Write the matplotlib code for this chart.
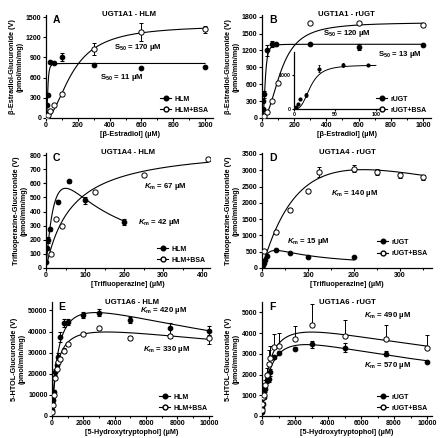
import numpy as np
import matplotlib
matplotlib.use('Agg')
import matplotlib.pyplot as plt
from matplotlib.lines import Line2D

plt.rcParams['font.family'] = ['Liberation Sans', 'DejaVu Sans']
plt.rcParams['font.weight'] = 'bold'
plt.rcParams['mathtext.fontset'] = 'custom'
plt.rcParams['mathtext.rm'] = 'Liberation Sans:bold'
plt.rcParams['mathtext.it'] = 'Liberation Sans:bold:italic'
plt.rcParams['mathtext.bf'] = 'Liberation Sans:bold'

# ---- Panel A: UGT1A1 - HLM (beta-estradiol)
a_x = [1, 2.5, 5, 10, 25, 50, 100, 300, 600, 1000]
a_hlm = [20, 80, 200, 340, 830, 820, 910, 790, 750, 760]
a_hlm_err = [0, 0, 0, 0, 10, 10, 60, 15, 10, 10]
a_bsa = [5, 10, 20, 40, 100, 200, 350, 1030, 1280, 1320]
a_bsa_err = [0, 0, 0, 0, 10, 10, 30, 90, 130, 50]
a_fit_hlm = (810, 11, 3.0)      # Vmax, S50, n
a_fit_bsa = (1380, 170, 1.9)

# ---- Panel B: UGT1A1 - rUGT
b_x = [1, 2.5, 5, 7.5, 15, 30, 60, 90, 300, 600, 1000]
b_rugt = [20, 60, 160, 300, 420, 1200, 1310, 1310, 1320, 1260, 1300]
b_rugt_err = [0, 0, 0, 20, 60, 100, 50, 30, 15, 60, 15]
b_bsa_x = [1, 2.5, 5, 10, 30, 60, 100, 300, 600, 1000]
b_bsa = [5, 10, 20, 40, 110, 300, 620, 1680, 1690, 1660]
b_fit_rugt = (1310, 20, 3.0)
b_fit_bsa = (1700, 120, 2.2)

# ---- Panel C: UGT1A4 - HLM (trifluoperazine)
c_hlm_x = [1, 2.5, 5, 10, 30, 60, 100, 200]
c_hlm = [45, 140, 200, 275, 470, 615, 480, 325]
c_hlm_err = [0, 10, 20, 10, 10, 10, 25, 20]
c_bsa_x = [12, 25, 40, 125, 250, 415]
c_bsa = [100, 345, 295, 540, 660, 775]
c_fit_hlm = (1510, 42, 60)       # Vmax, Km, Ki
c_fit_bsa = (870, 67)

# ---- Panel D: UGT1A4 - rUGT
d_rugt_x = [1, 2.5, 5, 7.5, 10, 30, 60, 100, 200]
d_rugt = [50, 100, 150, 250, 380, 550, 470, 350, 330]
d_bsa_x = [5, 30, 60, 100, 125, 200, 250, 300, 350]
d_bsa = [520, 1100, 1780, 2350, 2950, 3050, 2950, 2850, 2780]
d_bsa_err = [20, 50, 50, 60, 150, 100, 80, 80, 80]
d_fit_rugt = (1080, 15, 60)
d_fit_bsa = (6860, 140, 346)

# ---- Panel E: UGT1A6 - HLM (5-hydroxytryptophol)
e_x = [25, 50, 100, 200, 300, 400, 500, 750, 1000, 2000, 3000, 5000, 7500, 10000]
e_hlm = [3000, 7500, 11500, 21000, 24000, 28000, 37500, 44000, 44500, 48000, 49000, 45500, 41500, 40500]
e_hlm_err = [1000, 1000, 1000, 1500, 1500, 2000, 2500, 2000, 1500, 1500, 1500, 1500, 2500, 2000]
e_bsa = [2000, 5000, 10000, 18000, 22500, 25500, 27000, 31000, 34000, 39000, 41500, 37000, 38000, 37000]
e_bsa_err = [500, 500, 500, 800, 800, 800, 1000, 1000, 800, 800, 800, 800, 1000, 3000]
e_fit_hlm = (63700, 420, 18667)
e_fit_bsa = (47300, 330, 37121)

# ---- Panel F: UGT1A6 - rUGT
f_x = [10, 25, 50, 100, 200, 300, 400, 500, 750, 1000, 2000, 3000, 5000, 7500, 10000]
f_rugt = [200, 400, 600, 900, 1300, 1750, 1800, 2100, 2850, 3050, 3250, 3450, 3300, 3000, 2600]
f_rugt_err = [50, 50, 80, 100, 150, 150, 150, 150, 100, 80, 80, 150, 200, 120, 60]
f_bsa = [300, 600, 900, 1000, 1500, 2000, 2500, 2800, 3350, 3400, 3700, 4400, 3850, 3700, 3300]
f_bsa_err = [100, 150, 150, 200, 250, 300, 700, 600, 600, 600, 650, 1000, 800, 700, 600]
f_fit_rugt = (4900, 570, 12789)
f_fit_bsa = (5372, 490, 18367)


def hill(x, p):
    vmax, s50, n = p
    return vmax * x ** n / (s50 ** n + x ** n)


def mm(x, p):
    vmax, km = p
    return vmax * x / (km + x)


def subinh(x, p):
    vmax, km, ki = p
    return vmax * x / (km + x + x ** 2 / ki)


W, H = 440, 438
fig = plt.figure(figsize=(W / 100, H / 100), dpi=100)


def make_ax(l, b, r, t):
    return fig.add_axes([l / W, 1 - b / H, (r - l) / W, (b - t) / H])


def style(ax, xlim, ylim, xt, yt, xminor=None):
    ax.set_xlim(*xlim)
    ax.set_ylim(*ylim)
    ax.set_xticks(xt)
    ax.set_yticks(yt)
    if xminor is not None:
        ax.set_xticks(xminor, minor=True)
    for s in ['top', 'right']:
        ax.spines[s].set_visible(False)
    for s in ['left', 'bottom']:
        ax.spines[s].set_linewidth(0.9)
    ax.tick_params(labelsize=5.0, width=0.8, length=2, pad=1.2)
    ax.tick_params(which='minor', width=0.7, length=1.3)
    ax.patch.set_alpha(0)


def filled(ax, x, y, err=None, upper_only=False):
    yerr = None
    if err is not None:
        yerr = [np.zeros(len(err)), err] if upper_only else err
    ax.errorbar(x, y, yerr=yerr, fmt='o', color='black', ms=3.3, mew=0.8,
                elinewidth=0.7, capsize=1.4, capthick=0.7, zorder=4)


def opened(ax, x, y, err=None, upper_only=False):
    yerr = None
    if err is not None:
        yerr = [np.zeros(len(err)), err] if upper_only else err
    ax.errorbar(x, y, yerr=yerr, fmt='o', color='black', mfc='white', ms=3.8, mew=0.7,
                elinewidth=0.7, capsize=1.4, capthick=0.7, zorder=4)


def legend(ax, lab1, lab2, loc='lower right', bbox=None):
    h1 = Line2D([], [], color='black', lw=0.8, marker='o', ms=3.3)
    h2 = Line2D([], [], color='black', lw=0.8, marker='o', ms=3.5, mfc='white')
    leg = ax.legend([h1, h2], [lab1, lab2], loc=loc, bbox_to_anchor=bbox, frameon=False,
                    fontsize=5.0, handlelength=1.6, handletextpad=0.5, labelspacing=0.6,
                    borderaxespad=0.2)
    return leg


def header(ax, letter, title):
    ax.text(0.04, 1.0, letter, transform=ax.transAxes, fontsize=7.5, fontweight='bold',
            va='top', ha='left')
    ax.text(0.5, 1.0, title, transform=ax.transAxes, fontsize=5.6, fontweight='bold',
            va='center', ha='center')


lab_kw = dict(fontsize=5.2, fontweight='bold')
txt_kw = dict(fontsize=5.6, fontweight='bold')


def labels(ax, xl, yl):
    ax.set_ylabel(yl, labelpad=1.5, linespacing=1.1, **lab_kw)
    ax.set_xlabel(xl, labelpad=1.0, **lab_kw)


# ---------------- A
ax = make_ax(46, 118, 213, 15)
xs = np.linspace(0, 1000, 600)
ax.plot(xs, hill(xs, a_fit_hlm), color='black', lw=0.8)
ax.plot(xs, hill(xs, a_fit_bsa), color='black', lw=0.8)
filled(ax, a_x, a_hlm, a_hlm_err)
opened(ax, a_x, a_bsa, a_bsa_err)
style(ax, (0, 1050), (0, 1530), range(0, 1001, 200), range(0, 1501, 300), range(100, 1001, 200))
labels(ax, '[β-Estradiol] (µM)', 'β-Estradiol-Glucuronide (V)\n(pmol/min/mg)')
header(ax, 'A', 'UGT1A1 - HLM')
ax.text(430, 1040, r'S$_{50}$ = 170 µM', ha='left', va='center', **txt_kw)
ax.text(340, 600, r'S$_{50}$ = 11 µM', ha='left', va='center', **txt_kw)
legend(ax, 'HLM', 'HLM+BSA')

# ---------------- B
ax = make_ax(262, 118, 431, 15)
ax.plot(xs, hill(xs, b_fit_rugt), color='black', lw=0.8)
ax.plot(xs, hill(xs, b_fit_bsa), color='black', lw=0.8)
filled(ax, b_x, b_rugt, b_rugt_err)
opened(ax, b_bsa_x, b_bsa)
style(ax, (0, 1050), (0, 1830), range(0, 1001, 200), range(0, 1801, 300), range(100, 1001, 200))
labels(ax, '[β-Estradiol] (µM)', 'β-Estradiol-Glucuronide (V)\n(pmol/min/mg)')
header(ax, 'B', 'UGT1A1 - rUGT')
ax.text(380, 1500, r'S$_{50}$ = 120 µM', ha='left', va='center', **txt_kw)
ax.text(720, 1130, r'S$_{50}$ = 13 µM', ha='left', va='center', **txt_kw)
legend(ax, 'rUGT', 'rUGT+BSA')

# inset
ins = make_ax(294, 109, 380, 52)
xi = np.linspace(0, 100, 300)
ins.plot(xi, hill(xi, b_fit_rugt), color='black', lw=0.7)
ix = [v for v in b_x if v <= 100]
iy = [b_rugt[i] for i, v in enumerate(b_x) if v <= 100]
ie = [b_rugt_err[i] for i, v in enumerate(b_x) if v <= 100]
ins.errorbar(ix, iy, yerr=ie, fmt='o', color='black', ms=2, elinewidth=0.6,
             capsize=1, capthick=0.6)
style(ins, (0, 105), (0, 1700), [0, 50, 100], [0, 1000])
ins.tick_params(labelsize=3.8, length=1.5, pad=1)

# ---------------- C
ax = make_ax(46, 268, 210, 153)
xc = np.linspace(0, 200, 400)
xc2 = np.linspace(0, 415, 400)
ax.plot(xc, subinh(xc, c_fit_hlm), color='black', lw=0.8)
ax.plot(xc2, mm(xc2, c_fit_bsa), color='black', lw=0.8)
filled(ax, c_hlm_x, c_hlm, c_hlm_err)
opened(ax, c_bsa_x, c_bsa)
style(ax, (0, 420), (0, 815), range(0, 401, 100), range(0, 801, 100), range(50, 401, 100))
labels(ax, '[Trifluoperazine] (µM)', 'Trifluoperazine-Glucuronide (V)\n(pmol/min/mg)')
header(ax, 'C', 'UGT1A4 - HLM')
ax.text(250, 575, r'$K_{\rm m}$ = 67 µM', ha='left', va='center', **txt_kw)
ax.text(235, 320, r'$K_{\rm m}$ = 42 µM', ha='left', va='center', **txt_kw)
legend(ax, 'HLM', 'HLM+BSA')

# ---------------- D
ax = make_ax(262, 268, 432, 153)
xd = np.linspace(0, 200, 400)
xd2 = np.linspace(0, 350, 400)
ax.plot(xd, subinh(xd, d_fit_rugt), color='black', lw=0.8)
ax.plot(xd2, subinh(xd2, d_fit_bsa), color='black', lw=0.8)
filled(ax, d_rugt_x, d_rugt)
opened(ax, d_bsa_x, d_bsa, d_bsa_err)
style(ax, (0, 370), (0, 3530), range(0, 301, 100), range(0, 3501, 500), range(50, 351, 100))
labels(ax, '[Trifluoperazine] (µM)', 'Trifluoperazine-Glucuronide (V)\n(pmol/min/mg)')
header(ax, 'D', 'UGT1A4 - rUGT')
ax.text(150, 2300, r'$K_{\rm m}$ = 140 µM', ha='left', va='center', **txt_kw)
ax.text(55, 800, r'$K_{\rm m}$ = 15 µM', ha='left', va='center', **txt_kw)
legend(ax, 'rUGT', 'rUGT+BSA', loc='lower right', bbox=(1.0, 0.06))

# ---------------- E
ax = make_ax(52, 416, 212, 302)
xe = np.linspace(0, 10000, 800)
ax.plot(xe, subinh(xe, e_fit_hlm), color='black', lw=0.8)
ax.plot(xe, subinh(xe, e_fit_bsa), color='black', lw=0.8)
filled(ax, e_x, e_hlm, e_hlm_err)
opened(ax, e_x, e_bsa, e_bsa_err)
style(ax, (0, 10200), (0, 54000), range(0, 10001, 2000), range(0, 50001, 10000),
      range(1000, 10001, 2000))
labels(ax, '[5-Hydroxytryptophol] (µM)', '5-HTOL-Glucuronide (V)\n(pmol/min/mg)')
header(ax, 'E', 'UGT1A6 - HLM')
ax.text(5600, 50000, r'$K_{\rm m}$ = 420 µM', ha='left', va='center', **txt_kw)
ax.text(5800, 31500, r'$K_{\rm m}$ = 330 µM', ha='left', va='center', **txt_kw)
legend(ax, 'HLM', 'HLM+BSA')

# ---------------- F
ax = make_ax(262, 416, 432, 302)
ax.plot(xe, subinh(xe, f_fit_rugt), color='black', lw=0.8)
ax.plot(xe, subinh(xe, f_fit_bsa), color='black', lw=0.8)
filled(ax, f_x, f_rugt, f_rugt_err)
opened(ax, f_x, f_bsa, f_bsa_err, upper_only=True)
style(ax, (0, 10300), (0, 5500), range(0, 10001, 2000), range(0, 5001, 1000),
      range(1000, 10001, 2000))
labels(ax, '[5-Hydroxytryptophol] (µM)', '5-HTOL-Glucuronide (V)\n(pmol/min/mg)')
header(ax, 'F', 'UGT1A6 - rUGT')
ax.text(6200, 4850, r'$K_{\rm m}$ = 490 µM', ha='left', va='center', **txt_kw)
ax.text(6200, 2450, r'$K_{\rm m}$ = 570 µM', ha='left', va='center', **txt_kw)
legend(ax, 'rUGT', 'rUGT+BSA')

fig.savefig('out.png', dpi=100, facecolor='white')
